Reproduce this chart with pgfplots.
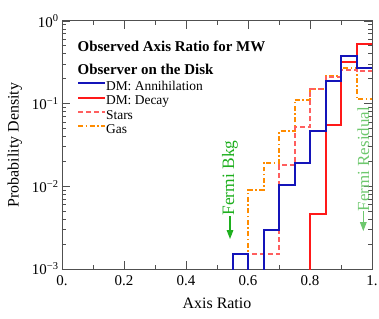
\documentclass[border=0pt]{standalone}
\usepackage{pgfplots}
\pgfplotsset{compat=1.18}
\usetikzlibrary{arrows.meta}
\usepackage{fontspec}
\setmainfont{Liberation Serif}
\definecolor{annblue}{RGB}{20,20,185}
\definecolor{decred}{RGB}{255,25,25}
\definecolor{starpink}{RGB}{255,95,95}
\definecolor{gasorange}{RGB}{255,140,0}
\definecolor{bkggreen}{RGB}{30,175,30}
\definecolor{resgreen}{RGB}{110,200,110}
\definecolor{frame}{RGB}{80,80,80}
\pgfplotstableread{
x y
0.50 1e-5
0.55 0.0015
0.60 1e-5
0.65 0.0030
0.70 0.0104
0.75 0.0189
0.80 0.047
0.85 0.189
0.90 0.378
0.95 0.273
1.00 0.273
}\ann
\pgfplotstableread{
x y
0.75 1e-5
0.80 0.0046
0.85 0.0548
0.90 0.321
0.95 0.528
1.00 0.528
}\dec
\pgfplotstableread{
x y
0.55 1e-5
0.60 0.0015
0.65 0.0015
0.70 0.0179
0.75 0.0518
0.80 0.150
0.85 0.210
0.90 0.257
0.95 0.245
1.00 0.245
}\stars
\pgfplotstableread{
x y
0.50 1e-5
0.55 0.0015
0.60 0.0090
0.65 0.0193
0.70 0.0463
0.75 0.112
0.80 0.150
0.85 0.215
0.90 0.269
0.95 0.114
1.00 0.114
}\gas
\begin{document}
\begin{tikzpicture}
\begin{axis}[
  scale only axis, width=310bp, height=248bp,
  xmin=0, xmax=1, ymode=log, ymin=1e-3, ymax=1,
  xtick={0,0.2,0.4,0.6,0.8,1},
  xticklabels={0.,0.2,0.4,0.6,0.8,1.},
  minor x tick num=1,
  ytick={1e-3,1e-2,1e-1,1},
  yticklabels={10\textsuperscript{−3},10\textsuperscript{−2},10\textsuperscript{−1},10\textsuperscript{0}},
  tick align=inside,
  major tick length=8bp, minor tick length=4.5bp,
  axis line style={frame, line width=1pt},
  every tick/.style={frame, line width=0.8pt},
  tick label style={font=\fontsize{15}{17}\selectfont},
  xticklabel style={yshift=-3bp},
  xlabel={Axis Ratio}, ylabel={Probability Density},
  label style={font=\fontsize{16}{18}\selectfont},
  xlabel style={yshift=-5bp},
  ylabel style={yshift=3bp},
  clip=true,
  reverse legend,
  legend style={at={(rel axis cs:0.048,0.758)}, anchor=north west, draw=none, fill=none,
    font=\fontsize{13.5}{14}\selectfont, inner sep=0pt, row sep=2.4bp,
    nodes={text height=9bp, text depth=3bp, inner sep=0pt},
    /tikz/every even column/.append style={column sep=6bp}},
  legend cell align=left,
  legend image code/.code={\draw[#1] (0bp,4bp) -- (27bp,4bp);},
]
\addplot[gasorange, line width=2bp, dash pattern=on 5pt off 2.5pt on 1.5pt off 2.5pt, const plot mark left] table[x=x,y=y]{\gas};
\addlegendentry{Gas}
\addplot[starpink, line width=2bp, dash pattern=on 5pt off 3pt, const plot mark left] table[x=x,y=y]{\stars};
\addlegendentry{Stars}
\addplot[decred, line width=2bp, const plot mark left] table[x=x,y=y]{\dec};
\addlegendentry{DM: Decay}
\addplot[annblue, line width=2bp, const plot mark left] table[x=x,y=y]{\ann};
\addlegendentry{DM: Annihilation}
\node[anchor=base west, inner sep=0pt, font=\fontsize{15}{17}\selectfont\bfseries] at (rel axis cs:0.05,0.879) {Observed Axis Ratio for MW};
\node[anchor=base west, inner sep=0pt, font=\fontsize{15}{17}\selectfont\bfseries] at (rel axis cs:0.05,0.786) {Observer on the Disk};
\node[rotate=90, anchor=west, inner sep=0pt, text=bkggreen, font=\fontsize{17.5}{19}\selectfont] at (axis cs:0.542,0.0044) {Fermi Bkg};
\draw[bkggreen, line width=1.3bp, -{Triangle[width=6.5bp,length=9bp]}] (axis cs:0.542,0.0044) -- (axis cs:0.542,0.0023);
\node[rotate=90, anchor=west, inner sep=0pt, text=resgreen, font=\fontsize{17}{19}\selectfont] at (axis cs:0.972,0.0050) {Fermi Residual};
\draw[resgreen, line width=1.3bp, -{Triangle[width=6.5bp,length=9bp]}] (axis cs:0.972,0.0050) -- (axis cs:0.972,0.00287);
\end{axis}
\pgfresetboundingbox
\path (-62bp,-50bp) rectangle (317bp,269bp);
\end{tikzpicture}
\end{document}
